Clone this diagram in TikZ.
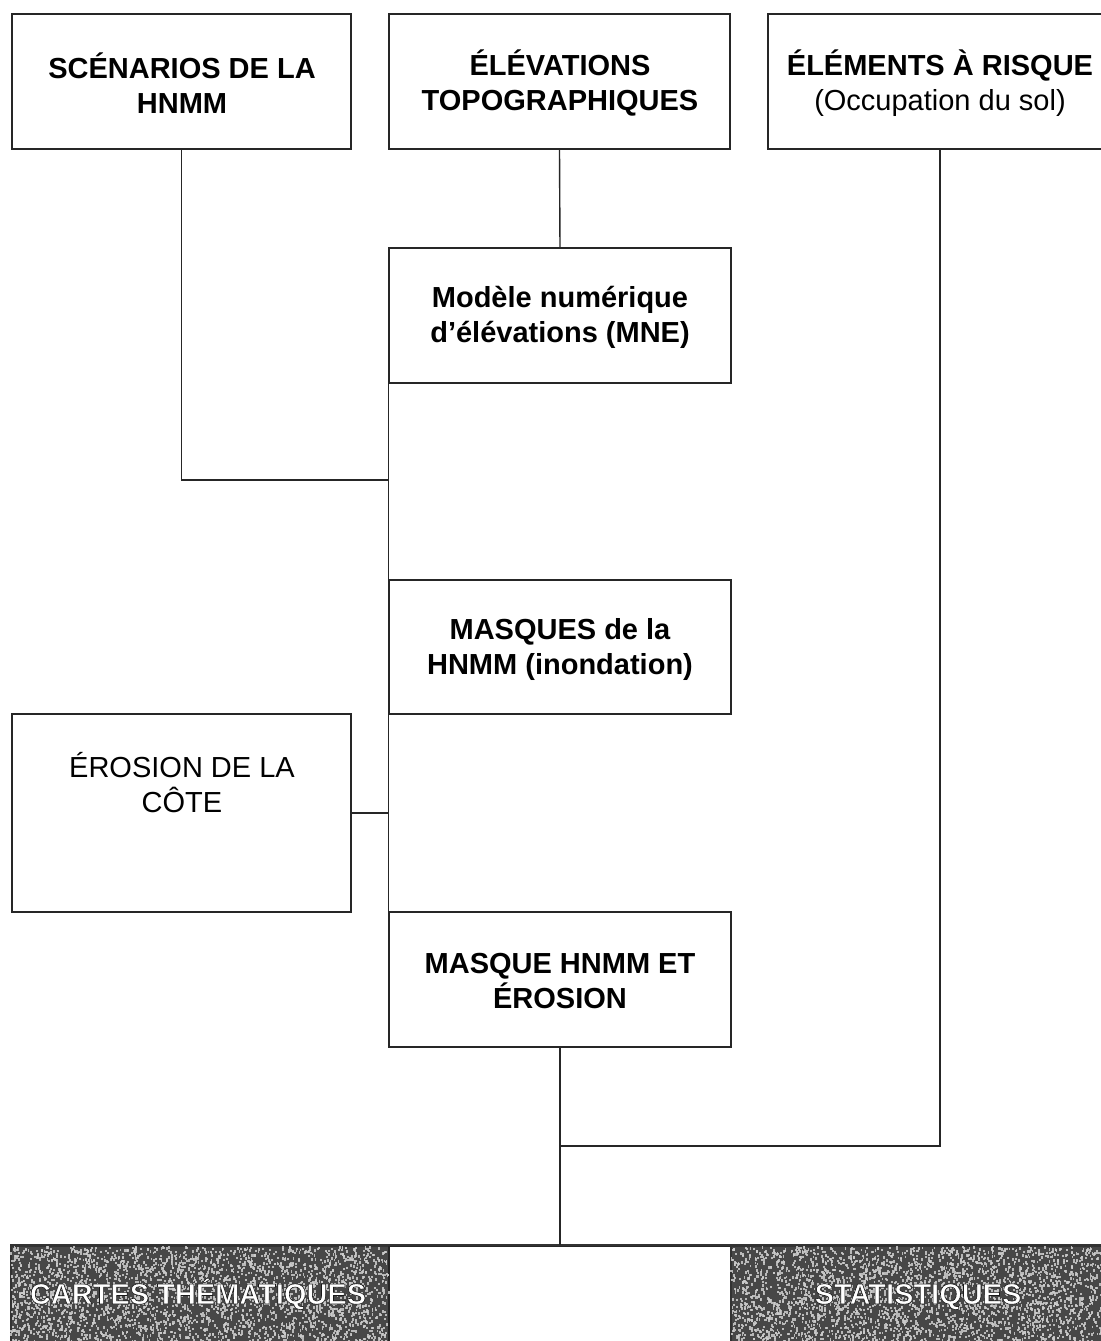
\documentclass[tikz,border=0pt]{standalone}
\usepackage{fontspec}
\setmainfont{Liberation Sans}
\newcommand{\outlinedtext}[1]{{\color{white}\special{pdf:literal direct 0.1 0.1 0.1 RG 2 Tr 0.3 w}#1\special{pdf:literal direct 0 Tr}}}
\begin{document}
\begin{tikzpicture}[x=0.5pt,y=-0.5pt,
  box/.style={draw=black!85,line width=0.8pt,inner sep=0pt,fill=white},
  txt/.style={align=center,font=\fontsize{14.5}{17.5}\selectfont,inner sep=0pt},
  btxt/.style={txt,font=\fontsize{14.5}{17.5}\selectfont\bfseries},
  wire/.style={draw=black!85,line width=0.7pt},
  grayblock/.style={inner sep=0pt,fill=black!72,draw=black!80,line width=0.8pt}]
\useasboundingbox (0,0) rectangle (1101,1341);
\fill[white] (0,0) rectangle (1101,1341);

% top row
\node[box,minimum width=169.5pt,minimum height=67.5pt] (b1) at (181.5,81.5) {};
\node[btxt] (t1) at (182,83) {SCÉNARIOS DE LA\\HNMM};
\node[box,minimum width=170.5pt,minimum height=67.5pt] (b2) at (559.5,81.5) {};
\node[btxt] (t2) at (560,83) {ÉLÉVATIONS\\TOPOGRAPHIQUES};
\node[box,minimum width=172pt,minimum height=67.5pt] (b3) at (940,81.5) {};
\node[txt] (t3) at (940,83) {\textbf{ÉLÉMENTS À RISQUE}\\(Occupation du sol)};

% middle column
\node[box,minimum width=171pt,minimum height=67.5pt] (mne) at (560,315.5) {};
\node[btxt] (tmne) at (560,317) {Modèle numérique\\d’élévations (MNE)};
\node[box,minimum width=171pt,minimum height=67pt] (msq) at (560,647) {};
\node[btxt] (tmsq) at (560,649) {MASQUES de la\\HNMM (inondation)};
\node[box,minimum width=169.5pt,minimum height=99pt] (ero) at (181.5,813) {};
\node[txt] (tero) at (182,783) {ÉROSION DE LA\\CÔTE};
\node[box,minimum width=171pt,minimum height=67.5pt] (mhe) at (560,979.5) {};
\node[btxt] (tmhe) at (560,981) {MASQUE HNMM ET\\ÉROSION};

% bottom row
\node[grayblock,minimum width=189pt,minimum height=50pt,anchor=north west] (cartes) at (10,1245) {};
\node[box,minimum width=171pt,minimum height=50pt,anchor=north west] (mid) at (388,1245) {};
\node[grayblock,minimum width=187pt,minimum height=50pt,anchor=north west] (stats) at (730,1245) {};

% texture (salt-and-pepper)
\pgfmathsetseed{11}
\foreach \bx/\bw in {10/378,730/372}{
  \foreach \i in {1,...,3000}{
    \pgfmathsetmacro\xx{\bx+\bw*rnd}
    \pgfmathsetmacro\yy{1246+96*rnd}
    \fill[black!20,opacity=0.85] (\xx,\yy) rectangle ++(1.8,2.4);
  }
}
\draw[draw=black!80,line width=0.8pt] (10,1245) -- (1101,1245);

\node[btxt,anchor=base] (tc) at (198,1304) {\outlinedtext{CARTES THÉMATIQUES}};
\node[btxt,anchor=base] (ts) at (918,1304) {\outlinedtext{STATISTIQUES}};

% connectors
\coordinate (j1) at (389,480);
\coordinate (j2) at (560,1146);
\draw[wire] (b1.south) |- (j1);
\draw[wire] (b2.south) -- (mne.north);
\draw[wire] (mne.south west) -- (mhe.north west);
\draw[wire] (ero.east) -- (ero.east -| mhe.west);
\draw[wire] (b3.south -| t3) |- (j2);
\draw[wire] (mhe.south) -- (mid.north -| mhe.south);
\end{tikzpicture}
\end{document}
